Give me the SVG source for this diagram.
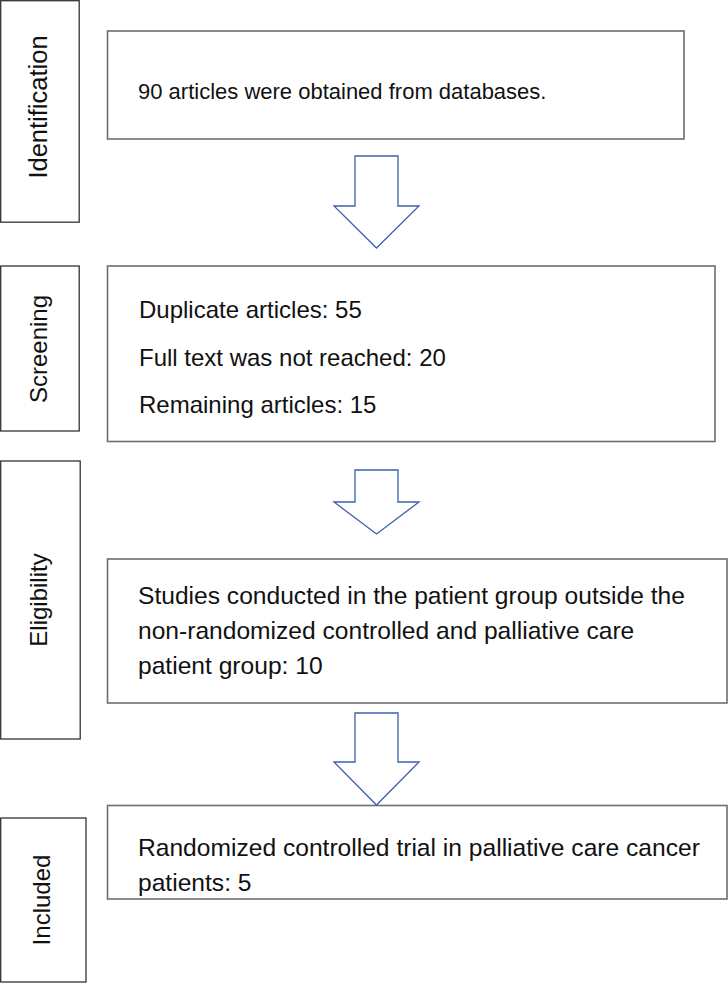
<svg xmlns="http://www.w3.org/2000/svg" width="728" height="983" viewBox="0 0 728 983">
<style>
.lbl{fill:#fff;stroke:#333;stroke-width:1.3}
.box{fill:#fff;stroke:#6e6e6e;stroke-width:1.6}
.arr{fill:#fff;stroke:#3b62ad;stroke-width:1.3;stroke-linejoin:miter}
text{font-family:"Liberation Sans",Arial,sans-serif;font-size:24px;fill:#111}
.v{font-size:24px;text-anchor:middle}
.t1{font-size:22px}
.t3{font-size:24.6px}
</style>
<rect width="728" height="983" fill="#fff"/>
<g id="label-identification"><rect class="lbl" x="0.7" y="0.7" width="78.5" height="221.5"/><text class="v" style="font-size:25.5px" transform="translate(47,107) rotate(-90)">Identification</text></g>
<g id="label-screening"><rect class="lbl" x="0.7" y="266" width="78.5" height="165"/><text class="v" transform="translate(47,349) rotate(-90)">Screening</text></g>
<g id="label-eligibility"><rect class="lbl" x="0.7" y="461" width="79.5" height="278"/><text class="v" transform="translate(47,600) rotate(-90)">Eligibility</text></g>
<g id="label-included"><rect class="lbl" x="0.7" y="818" width="85.3" height="164"/><text class="v" transform="translate(50,900) rotate(-90)">Included</text></g>
<g id="box-identification"><rect class="box" x="107.5" y="31" width="576.5" height="108"/><text class="t1" x="138" y="99">90 articles were obtained from databases.</text></g>
<g id="box-screening"><rect class="box" x="107.5" y="266" width="607.5" height="175.5"/><text x="139" y="318">Duplicate articles: 55</text><text x="139" y="366">Full text was not reached: 20</text><text x="139" y="413">Remaining articles: 15</text></g>
<g id="box-eligibility"><rect class="box" x="107.5" y="559" width="619.5" height="144"/><text class="t3" x="138" y="604">Studies conducted in the patient group outside the</text><text class="t3" x="138" y="639">non-randomized controlled and palliative care</text><text class="t3" x="138" y="674">patient group: 10</text></g>
<g id="box-included"><rect class="box" x="107.5" y="805.5" width="619.5" height="93.5"/><text class="t3" x="138" y="856">Randomized controlled trial in palliative care cancer</text><text class="t3" x="138" y="891">patients: 5</text></g>
<g id="connectors">
<polygon class="arr" points="355,156 398,156 398,206 419,206 376.5,248 334,206 355,206"/>
<polygon class="arr" points="355,470 398,470 398,502 419,502 376.5,534 334,502 355,502"/>
<polygon class="arr" points="355,713 398,713 398,762 419,762 376.5,805 334,762 355,762"/>
</g>
</svg>
